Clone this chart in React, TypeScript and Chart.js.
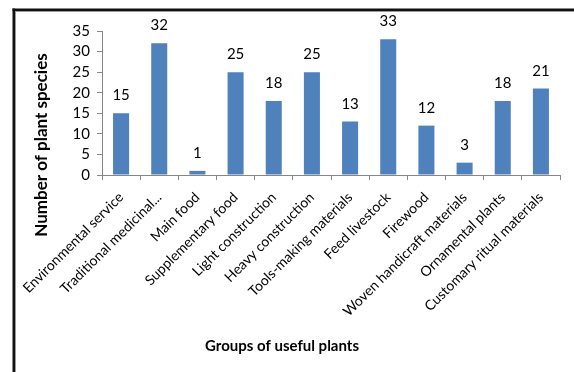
import React, { useEffect, useRef } from "react";
import { Chart, registerables } from "chart.js";

Chart.register(...registerables);

const categories = [
  "Environmental service",
  "Traditional medicinal...",
  "Main food",
  "Supplementary food",
  "Light construction",
  "Heavy construction",
  "Tools-making materials",
  "Feed livestock",
  "Firewood",
  "Woven handicraft materials",
  "Ornamental plants",
  "Customary ritual materials",
];
const speciesCounts = [15, 32, 1, 25, 18, 25, 13, 33, 12, 3, 18, 21];
const yTitle = "Number of plant species";
const xTitle = "Groups of useful plants";

const FONT = "Lato";

const decorPlugin = {
  id: "decor",
  beforeDraw(chart: any) {
    const ctx = chart.ctx;
    ctx.save();
    ctx.fillStyle = "#ffffff";
    ctx.fillRect(0, 0, chart.width, chart.height);
    ctx.fillStyle = "#111111";
    ctx.fillRect(12.5, 8.5, 2.5, chart.height);
    ctx.fillRect(12.5, 8.5, chart.width, 2.5);
    ctx.fillStyle = "#9a9a9a";
    ctx.fillRect(15, 11, 1, chart.height);
    ctx.fillRect(15, 11, chart.width, 1);
    ctx.restore();
  },
  afterDraw(chart: any) {
    const ctx = chart.ctx;
    ctx.save();
    ctx.fillStyle = "#000000";
    ctx.textAlign = "center";
    ctx.textBaseline = "middle";
    ctx.font = `bold 15px ${FONT}`;
    ctx.fillText(xTitle, 282, 346);
    ctx.font = `bold 17px ${FONT}`;
    ctx.translate(42, 145);
    ctx.rotate(-Math.PI / 2);
    ctx.fillText(yTitle, 0, 0);
    ctx.restore();
  },
  afterDatasetsDraw(chart: any) {
    const ctx = chart.ctx;
    const meta = chart.getDatasetMeta(0);
    const data = chart.data.datasets[0].data;
    ctx.save();
    ctx.fillStyle = "#000000";
    ctx.font = `15px ${FONT}`;
    ctx.textAlign = "center";
    ctx.textBaseline = "alphabetic";
    meta.data.forEach((bar: any, i: number) => {
      ctx.fillText(String(data[i]), bar.x, bar.y - 13);
    });
    ctx.restore();
  },
};

export default function App() {
  const ref = useRef<HTMLCanvasElement | null>(null);
  useEffect(() => {
    if (!ref.current) return;
    const chart = new Chart(ref.current, {
      type: "bar",
      data: {
        labels: categories,
        datasets: [
          {
            data: speciesCounts,
            backgroundColor: "#4F81BD",
            borderWidth: 0,
            categoryPercentage: 1,
            barPercentage: 0.42,
          },
        ],
      },
      options: {
        responsive: false,
        animation: false,
        layout: { padding: { left: 0, top: 31, right: 14, bottom: 0 } },
        plugins: {
          legend: { display: false },
          tooltip: { enabled: false },
          title: { display: false },
        },
        scales: {
          x: {
            offset: true,
            grid: {
              offset: true,
              drawOnChartArea: false,
              drawTicks: true,
              tickLength: 5,
              color: "#868686",
            },
            border: { display: true, color: "#868686" },
            ticks: {
              autoSkip: false,
              maxRotation: 45,
              minRotation: 45,
              color: "#000000",
              padding: 9,
              font: { family: FONT, size: 14 },
            },
            afterFit: (scale: any) => {
              scale.height = 197;
            },
          },
          y: {
            min: 0,
            max: 35,
            ticks: {
              stepSize: 5,
              autoSkip: false,
              color: "#000000",
              padding: 7,
              font: { family: FONT, size: 15 },
            },
            grid: {
              drawOnChartArea: false,
              drawTicks: true,
              tickLength: 5,
              color: "#868686",
            },
            border: { display: true, color: "#868686" },
            afterFit: (scale: any) => {
              scale.width = 102;
            },
          },
        },
      },
      plugins: [decorPlugin],
    });
    return () => chart.destroy();
  }, []);
  return (
    <div style={{ position: "absolute", left: 0, top: 0, width: 574, height: 372 }}>
      <canvas ref={ref} width={574} height={372} style={{ width: 574, height: 372, display: "block" }} />
    </div>
  );
}
